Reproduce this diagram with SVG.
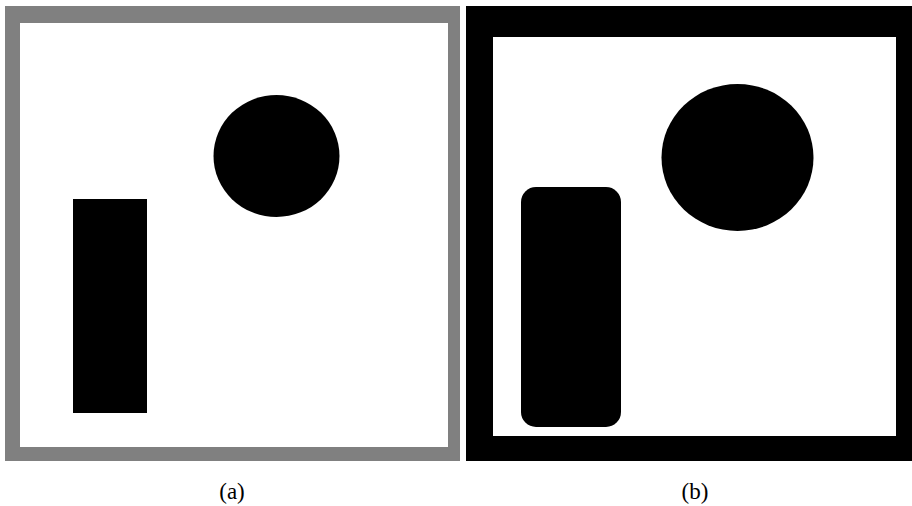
<svg xmlns="http://www.w3.org/2000/svg" width="912" height="506" viewBox="0 0 912 506">
<style>
.lbl{font-family:"Liberation Serif","Times New Roman",serif;font-size:23px;fill:#000;text-anchor:middle}
.blk{fill:#000}
</style>
<rect width="912" height="506" fill="#fff"/>
<g id="panel-a">
<rect x="5" y="6" width="455" height="455" fill="#808080"/>
<rect x="20" y="23" width="428" height="424" fill="#fff"/>
<rect class="blk" x="73" y="199" width="74" height="214"/>
<ellipse class="blk" cx="276.5" cy="156" rx="63" ry="61"/>
<text class="lbl" x="232" y="499">(a)</text>
</g>
<g id="panel-b">
<rect x="466" y="6" width="446" height="455" fill="#000"/>
<rect x="493" y="37" width="403" height="399" fill="#fff"/>
<rect class="blk" x="521" y="187" width="100" height="240" rx="15" ry="15"/>
<ellipse class="blk" cx="737.5" cy="157.5" rx="76" ry="73.5"/>
<text class="lbl" x="695" y="499">(b)</text>
</g>
<g id="connectors"/>
</svg>
